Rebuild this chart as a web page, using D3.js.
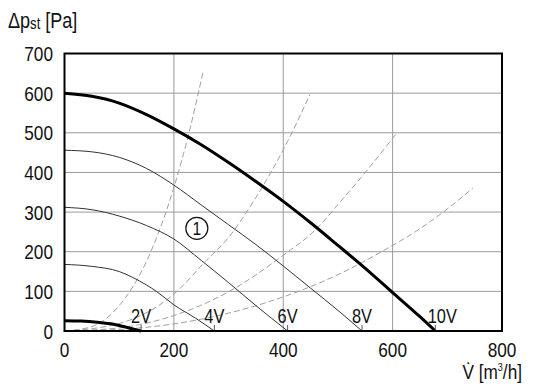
<!DOCTYPE html>
<html>
<head>
<meta charset="utf-8">
<script src="https://cdn.jsdelivr.net/npm/d3@7"></script>
<style>
  body { margin: 0; background: #fff; }
  text { font-family: "Liberation Sans", Arial, sans-serif; fill: #111; }
</style>
</head>
<body>
<div id="chart-area"></div>
<script>
// axis ticks
const xTicks = [0, 200, 400, 600, 800];
const yTicks = [0, 100, 200, 300, 400, 500, 600, 700];

// fan curves [flow m3/h, pressure Pa]
const voltLabels = ["2V", "4V", "6V", "8V", "10V"];
const curve2V  = [[0,26],[30,25],[60,22],[90,17],[115,9],[140,0]];
const curve4V  = [[0,168],[50,163],[100,150],[125,135],[150,116],[168,100],[200,66],[240,32],[274,0]];
const curve6V  = [[0,312],[50,306],[100,290],[150,266],[200,232],[250,178],[300,122],[350,64],[408,0]];
const curve8V  = [[0,456],[50,452],[100,438],[150,410],[200,368],[250,318],[300,268],[350,218],[400,164],[450,108],[500,52],[544,0]];
const curve10V = [[0,600],[50,592],[100,575],[150,546],[200,510],[250,470],[300,425],[350,377],[400,327],[450,273],[500,216],[550,158],[600,97],[650,36],[678,0]];
const fanCurves = [curve2V, curve4V, curve6V, curve8V, curve10V];
const thickCurve = [true, false, false, false, true];

// system curves (dashed)
const system1 = [[0,0],[50,11],[100,64],[150,176],[200,362],[230,513],[254,658]];
const system2 = [[0,0],[100,19],[200,93],[260,179],[300,236],[350,337],[400,457],[449,597]];
const system3 = [[0,0],[100,8],[200,39],[300,99],[400,191],[461,258],[500,319],[550,400],[608,500]];
const system4 = [[0,0],[100,4],[200,18],[300,45],[400,86],[500,142],[600,216],[632,242],[700,308],[747,361]];
const systemCurves = [system1, system2, system3, system4];

// marker "1"
const marker = [242, 259];

let svgCanvas = d3.select("#chart-area")
                    .append("svg")
                    .attr("width", 536)
                    .attr("height", 388);

let plotLeft = 64.5, plotRight = 502, plotTop = 53.5, plotBottom = 331;
let squeeze = 0.82;   // narrow the font to look like a condensed face

let x = d3.scaleLinear().domain([0, 800]).range([plotLeft, plotRight]);
let y = d3.scaleLinear().domain([0, 700]).range([plotBottom, plotTop]);

function place(sel, fx, fy) {
    return sel.attr("transform", (d, i) => "translate(" + fx(d, i) + "," + fy(d, i) + ") scale(" + squeeze + ",1)");
}

// grid
svgCanvas.append("g")
    .selectAll("line")
    .data(xTicks.slice(1, -1))
    .enter().append("line")
    .attr("x1", d => x(d)).attr("x2", d => x(d))
    .attr("y1", plotTop).attr("y2", plotBottom)
    .attr("stroke", "#9a9a9a").attr("stroke-width", 1);

svgCanvas.append("g")
    .selectAll("line")
    .data(yTicks.slice(1, -1))
    .enter().append("line")
    .attr("x1", plotLeft).attr("x2", plotRight)
    .attr("y1", d => y(d)).attr("y2", d => y(d))
    .attr("stroke", "#9a9a9a").attr("stroke-width", 1);

let line = d3.line()
    .x(d => x(d[0]))
    .y(d => y(d[1]))
    .curve(d3.curveMonotoneX);

// dashed system curves
svgCanvas.append("g")
    .selectAll("path")
    .data(systemCurves)
    .enter().append("path")
    .attr("d", line)
    .attr("fill", "none")
    .attr("stroke", "#a0a0a0")
    .attr("stroke-width", 1)
    .attr("stroke-dasharray", "6,3");

// fan curves
svgCanvas.append("g")
    .selectAll("path")
    .data(fanCurves)
    .enter().append("path")
    .attr("d", line)
    .attr("fill", "none")
    .attr("stroke", (d, i) => thickCurve[i] ? "#000" : "#333")
    .attr("stroke-width", (d, i) => thickCurve[i] ? 3 : 1);

// voltage labels with small ticks at curve ends
let ends = fanCurves.map(c => c[c.length - 1][0]);
svgCanvas.append("g")
    .selectAll("line")
    .data(ends)
    .enter().append("line")
    .attr("x1", d => x(d)).attr("x2", d => x(d))
    .attr("y1", plotBottom - 6).attr("y2", plotBottom)
    .attr("stroke", "#555").attr("stroke-width", 1);

place(svgCanvas.append("g")
    .selectAll("text")
    .data(voltLabels)
    .enter().append("text")
    .attr("text-anchor", "middle")
    .attr("font-size", 20)
    .text(d => d),
    (d, i) => x(ends[i]) + (i == 4 ? 7 : 0), () => plotBottom - 8.5);

// frame
svgCanvas.append("rect")
    .attr("x", plotLeft).attr("y", plotTop)
    .attr("width", plotRight - plotLeft).attr("height", plotBottom - plotTop)
    .attr("fill", "none")
    .attr("stroke", "#000")
    .attr("stroke-width", 2);

// tick labels
place(svgCanvas.append("g")
    .selectAll("text")
    .data(xTicks)
    .enter().append("text")
    .attr("text-anchor", "middle")
    .attr("font-size", 21)
    .text(d => d),
    d => x(d), () => 357);

place(svgCanvas.append("g")
    .selectAll("text")
    .data(yTicks)
    .enter().append("text")
    .attr("text-anchor", "end")
    .attr("font-size", 21)
    .text(d => d),
    () => 53, d => y(d) + 7.5);

// axis titles
let yTitle = svgCanvas.append("text")
    .attr("transform", "translate(8,28) scale(" + squeeze + ",1)")
    .attr("font-size", 22);
yTitle.append("tspan").text("Δp");
yTitle.append("tspan").attr("font-size", 16).attr("dy", 1).text("st");
yTitle.append("tspan").attr("dy", -1).text(" [Pa]");

let xTitle = svgCanvas.append("text")
    .attr("transform", "translate(522,379) scale(" + squeeze + ",1)")
    .attr("text-anchor", "end")
    .attr("font-size", 21);
xTitle.append("tspan").text("V\u0307 [m");
xTitle.append("tspan").attr("font-size", 11).attr("dy", -8).text("3");
xTitle.append("tspan").attr("dy", 8).text("/h]");

// circled 1
svgCanvas.append("circle")
    .attr("cx", x(marker[0])).attr("cy", y(marker[1]))
    .attr("r", 11)
    .attr("fill", "none")
    .attr("stroke", "#111")
    .attr("stroke-width", 1.2);
svgCanvas.append("text")
    .attr("transform", "translate(" + x(marker[0]) + "," + (y(marker[1]) + 7) + ") scale(" + squeeze + ",1)")
    .attr("text-anchor", "middle")
    .attr("font-size", 19)
    .text("1");
</script>
</body>
</html>
